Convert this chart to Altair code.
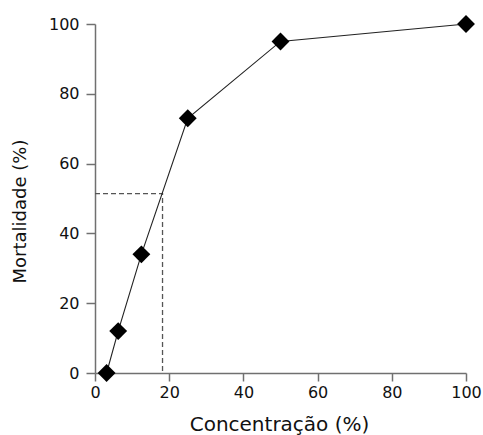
import altair as alt
import pandas as pd

conc = [3.125, 6.25, 12.5, 25, 50, 100]
mort = [0, 12, 34, 73, 95, 100]
lc50_x = 18.2
lc50_y = 51.4

df = pd.DataFrame({"conc": conc, "mort": mort})
dash_df = pd.DataFrame({"x": [0, lc50_x, lc50_x], "y": [lc50_y, lc50_y, 0], "o": [0, 1, 2]})

FONT = "DejaVu Sans"

xs = alt.Scale(domain=[0, 100], nice=False, zero=False)
ys = alt.Scale(domain=[0, 100], nice=False, zero=False)

xaxis = alt.Axis(values=[0, 20, 40, 60, 80, 100], grid=False, domainColor="#707070",
                 domainWidth=1.5, tickColor="#707070", tickWidth=1.5, tickSize=8,
                 labelFont=FONT, labelFontSize=16, labelColor="#111", labelPadding=3,
                 labelFlush=False, labelOverlap=False,
                 title="Concentração (%)", titleFont=FONT, titleFontSize=20,
                 titleFontWeight="normal", titleColor="#111", titleX=184, titleY=51,
                 titleBaseline="middle")
yaxis = alt.Axis(values=[0, 20, 40, 60, 80, 100], grid=False, domainColor="#707070",
                 domainWidth=1.5, tickColor="#707070", tickWidth=1.5, tickSize=9,
                 labelFont=FONT, labelFontSize=16, labelColor="#111", labelPadding=7,
                 labelFlush=False, labelOverlap=False,
                 title="Mortalidade (%)", titleFont=FONT, titleFontSize=18,
                 titleFontWeight="normal", titleColor="#111", titleX=-75, titleY=187,
                 titleBaseline="middle", titleAngle=-90)

dash = alt.Chart(dash_df).mark_line(color="#555", strokeDash=[5, 3], strokeWidth=1.3).encode(
    x=alt.X("x:Q", scale=xs, axis=xaxis),
    y=alt.Y("y:Q", scale=ys, axis=yaxis),
    order="o:Q",
)
line = alt.Chart(df).mark_line(color="#222", strokeWidth=1.1).encode(
    x=alt.X("conc:Q", scale=xs),
    y=alt.Y("mort:Q", scale=ys),
)
pts = alt.Chart(df).mark_point(shape="diamond", filled=True, color="black", opacity=1, size=320).encode(
    x=alt.X("conc:Q", scale=xs),
    y=alt.Y("mort:Q", scale=ys),
)

chart = alt.layer(dash, line, pts).properties(
    width=371, height=349,
    autosize=alt.AutoSizeParams(type="none"),
    padding={"left": 95, "top": 24, "right": 17, "bottom": 62},
    background="white",
).configure_view(stroke=None)

chart.save("out.html", embed_options={"renderer": "svg", "actions": False})
